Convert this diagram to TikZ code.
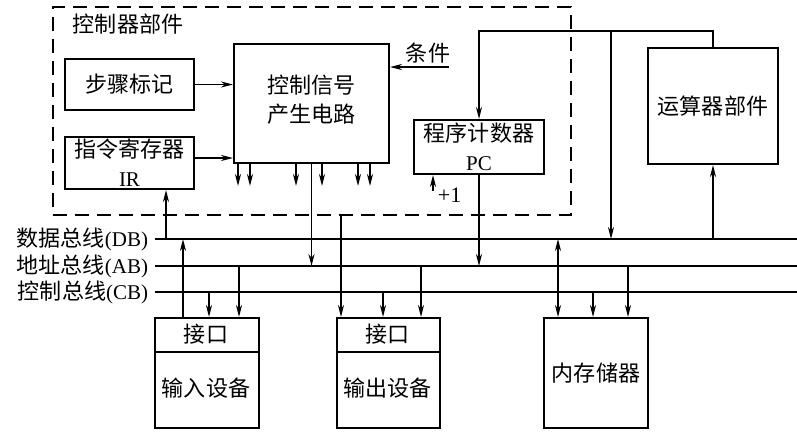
\documentclass[tikz,border=0pt]{standalone}
\usepackage{fontspec}
\setmainfont{Liberation Serif}
\newfontfamily\cjkfont[Scale=1.05]{Noto Sans CJK SC}
\newcommand\zh[1]{{\cjkfont #1}}
\usetikzlibrary{arrows.meta}
\begin{document}
\begin{tikzpicture}[x=1pt,y=-1pt,line width=1.8pt,
  >={Stealth[length=12pt,width=6pt]},
  box/.style={draw,line width=2pt,anchor=north west,inner sep=0pt,align=center},
  txt/.style={inner sep=0pt,align=center},
  bus/.style={line width=1.8pt},
  font=\fontsize{21}{29}\selectfont]
\useasboundingbox[fill=white] (0,0) rectangle (797,440);

% controller dashed frame
\node[draw,dash pattern=on 14pt off 8pt,line width=1.8pt,anchor=north west,inner sep=0pt,
  minimum width=518pt,minimum height=208pt] (ctl) at (52,6) {};
\node[txt,anchor=west] (ctllab) at (72,24) {\zh{控制器部件}};

% boxes
\node[box,minimum width=129pt,minimum height=51pt] (step) at (64,58) {\zh{步骤标记}};
\node[box,minimum width=129pt,minimum height=52pt] (ir) at (64,136) {\zh{指令寄存器}\\IR};
\node[box,minimum width=155pt,minimum height=119pt] (ctrl) at (233,43) {};
\node[txt] (ctrltxt) at ([yshift=4pt]ctrl.center) {\zh{控制信号}\\\zh{产生电路}};
\node[box,minimum width=130pt,minimum height=54pt] (pc) at (413,119) {\zh{程序计数器}\\PC};
\node[box,minimum width=130pt,minimum height=116pt] (alu) at (647,47) {\zh{运算器部件}};
\node[box,minimum width=104pt,minimum height=110pt] (in) at (154,317) {};
\node[box,minimum width=103pt,minimum height=110pt] (out) at (336,317) {};
\node[box,minimum width=104pt,minimum height=110pt] (mem) at (543,317) {\zh{内存储器}};
\draw[line width=2pt] (in.west |- 0,352) -- (in.east |- 0,352);
\draw[line width=2pt] (out.west |- 0,352) -- (out.east |- 0,352);
\node[txt] (inif) at (206,334.5) {\zh{接口}};
\node[txt] (indev) at (206,388) {\zh{输入设备}};
\node[txt] (outif) at (387.5,334.5) {\zh{接口}};
\node[txt] (outdev) at (387.5,388) {\zh{输出设备}};

% buses
\coordinate (dbL) at (155,239); \coordinate (dbR) at (797,239);
\coordinate (abL) at (155,266); \coordinate (abR) at (797,266);
\coordinate (cbL) at (155,292); \coordinate (cbR) at (797,292);
\draw[bus] (dbL) -- (dbR);
\draw[bus] (abL) -- (abR);
\draw[bus] (cbL) -- (cbR);
\node[txt,anchor=east] (dblab) at (149,239) {\zh{数据总线}(DB)};
\node[txt,anchor=east] (ablab) at (149,266) {\zh{地址总线}(AB)};
\node[txt,anchor=east] (cblab) at (149,292) {\zh{控制总线}(CB)};

% inside controller
\draw[->] (step.east) -- (step.east -| ctrl.west);
\draw[->] ([yshift=5pt]ir.east) -- ([yshift=5pt]ir.east -| ctrl.west);
\foreach \x in {238,250,296,322,358,370}
  \draw[->] (ctrl.south -| \x,0) -- ++(0,22);
\draw[->] (ctrl.south) -- (ctrl.south |- abL);
\coordinate (cond) at (449,67);
\draw[->] (cond) -- (cond -| ctrl.east);
\node[txt,anchor=south] (condlab) at (428,64) {\zh{条件}};
\coordinate (plus) at (433,191);
\draw[->] (plus) -- (plus |- pc.south);
\node[txt,anchor=west,font=\fontsize{22}{24}\selectfont] (plusone) at (437,195) {+1};

% ALU / PC loop
\draw[->] (alu.north) -- ++(0,-16) -| (pc.north);
\coordinate (jn) at (611,31);
\draw[->] (jn) -- (jn |- dbL);
\draw[->] (pc.south) -- (pc.south |- abL);
\draw[->] (alu.south |- dbL) -- (alu.south);

% IR from DB
\coordinate (irin) at (166,239);
\draw[->] (irin) -- (irin |- ir.south);

% control line to output
\draw[->] (ctl.south -| 341,0) -- (out.north -| 341,0);

% input device
\draw[->] (in.north -| 183,0) -- (dbL -| 183,0);
\draw[->] (cbL -| 209,0) -- (in.north -| 209,0);
\draw[->] (abL -| 239,0) -- (in.north -| 239,0);

% output device
\draw[->] (cbL -| 383,0) -- (out.north -| 383,0);
\draw[->] (abL -| 421,0) -- (out.north -| 421,0);

% memory
\draw[<->] (dbL -| 558,0) -- (mem.north -| 558,0);
\draw[->] (cbL -| 593,0) -- (mem.north -| 593,0);
\draw[->] (abL -| 628,0) -- (mem.north -| 628,0);
\end{tikzpicture}
\end{document}
